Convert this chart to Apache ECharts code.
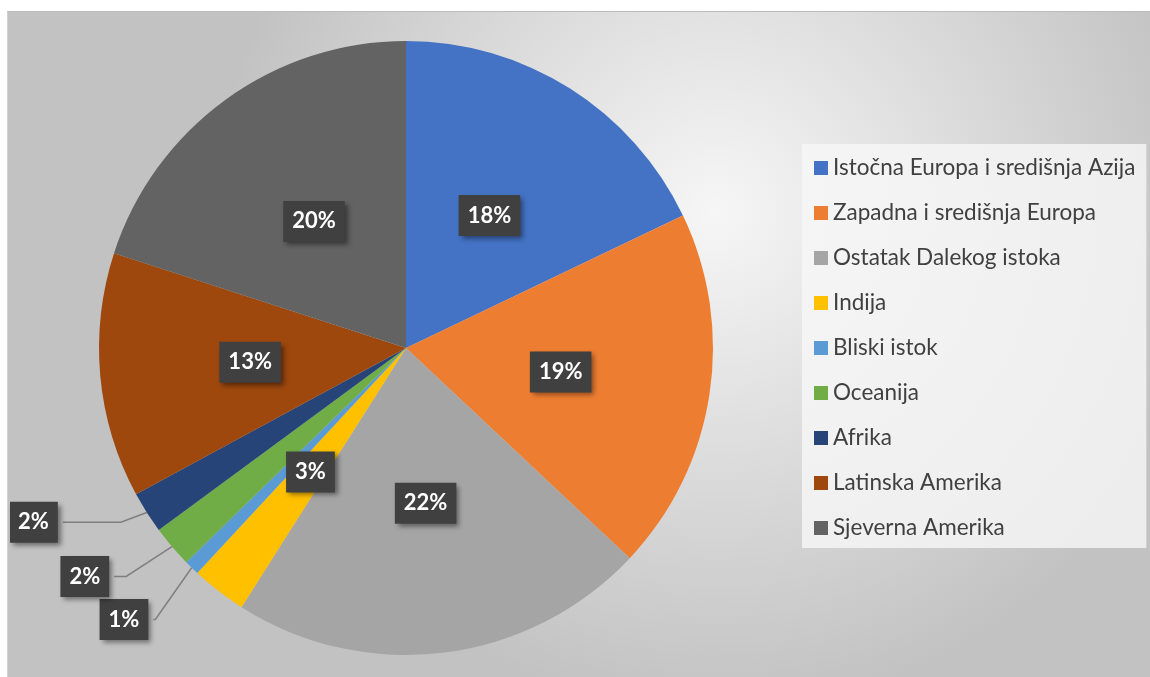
<!DOCTYPE html>
<html>
<head>
<meta charset="utf-8">
<script src="https://cdn.jsdelivr.net/npm/echarts@6/dist/echarts.min.js"></script>
<style>
  html, body { margin: 0; padding: 0; background: #fff; }
  #chart {
    position: absolute;
    left: 7px;
    top: 11px;
    width: 1143px;
    height: 666px;
    border-top: 1px solid #bcbcbc;
    border-left: 1px solid #d0d0d0;
    box-sizing: border-box;
  }
</style>
</head>
<body>
<div id="chart"></div>
<script>
// regions, in legend order (clockwise from 12 o'clock)
const regions = [
  "Istočna Europa i središnja Azija",
  "Zapadna i središnja Europa",
  "Ostatak Dalekog istoka",
  "Indija",
  "Bliski istok",
  "Oceanija",
  "Afrika",
  "Latinska Amerika",
  "Sjeverna Amerika",
];
// share of total, percent
const shares = [17.9, 19.1, 22.0, 2.9, 0.8, 2.2, 2.2, 12.9, 20.0];
const colors = [
  "#4472C4", "#ED7D31", "#A5A5A5", "#FFC000", "#5B9BD5",
  "#70AD47", "#264478", "#9E480E", "#636363",
];
// small slices whose labels sit outside, with leader lines
const outsideLines = {
  "Bliski istok": { length: 52, length2: 2 },
  "Oceanija": { length: 46, length2: 12 },
  "Afrika": { length: 18, length2: 58 },
};

const chart = echarts.init(document.getElementById("chart"), null, {
  renderer: "canvas",
});

const labelBox = {
  color: "#fff",
  fontFamily: "Lato, 'Open Sans', sans-serif",
  fontWeight: "bold",
  fontSize: 22,
  backgroundColor: "#404040",
  padding: [10, 9, 9, 9],
  overflow: "none",
  shadowColor: "rgba(0,0,0,0.45)",
  shadowBlur: 5,
  shadowOffsetX: 3,
  shadowOffsetY: 3,
  formatter: (p) => Math.round(p.percent) + "%",
};

chart.setOption({
  animation: false,
  backgroundColor: {
    type: "radial",
    x: 0.62,
    y: 0.3,
    r: 0.75,
    colorStops: [
      { offset: 0, color: "#f6f6f6" },
      { offset: 1, color: "#c2c2c2" },
    ],
  },
  legend: {
    orient: "vertical",
    left: 794,
    top: 132,
    padding: [12, 11, 8, 12],
    backgroundColor: "rgba(246,246,246,0.82)",
    itemWidth: 14,
    itemHeight: 14,
    itemGap: 21,
    icon: "rect",
    textStyle: {
      color: "#404040",
      fontFamily: "Lato, 'Open Sans', sans-serif",
      fontSize: 22.5,
      lineHeight: 24,
    },
    data: regions,
  },
  series: [
    {
      type: "pie",
      center: [398, 336],
      radius: 307,
      startAngle: 90,
      clockwise: true,
      silent: true,
      avoidLabelOverlap: true,
      label: Object.assign({ position: "inside" }, labelBox),
      labelLine: { show: false },
      data: regions.map((name, i) => {
        const item = {
          name,
          value: shares[i],
          itemStyle: { color: colors[i] },
        };
        if (outsideLines[name]) {
          item.label = Object.assign(
            { position: "outside", bleedMargin: 2 },
            labelBox,
          );
          item.labelLine = Object.assign(
            { show: true, lineStyle: { color: "#7f7f7f", width: 1.5 } },
            outsideLines[name],
          );
        }
        return item;
      }),
    },
  ],
});
</script>
</body>
</html>
